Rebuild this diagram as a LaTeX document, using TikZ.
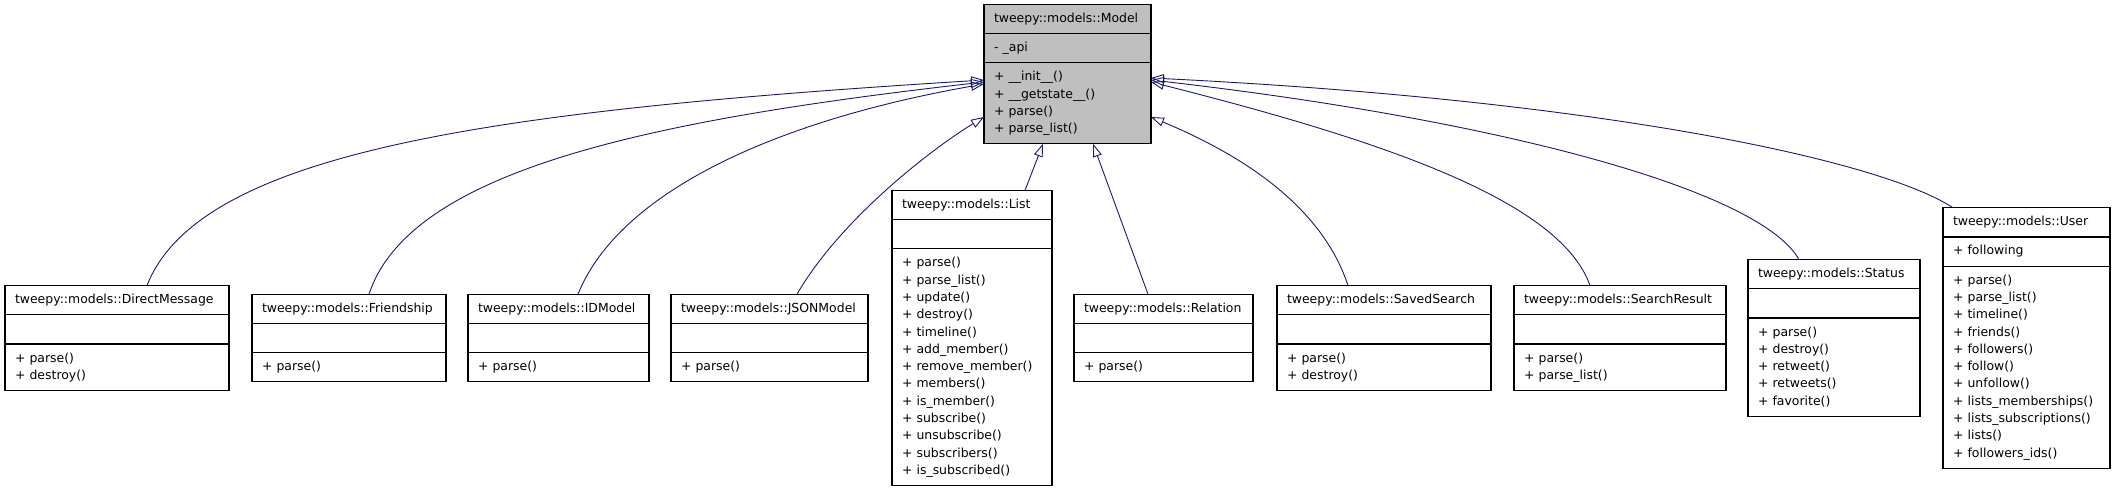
\documentclass[tikz,border=0pt]{standalone}
\usepackage{fontspec}
\newfontfamily\dxfont{DejaVu Sans}
\usepackage{tikz}
\usetikzlibrary{arrows.meta,positioning,shapes.multipart}
\definecolor{umlgray}{HTML}{BFBFBF}
\definecolor{dxblue}{HTML}{191970}

\begin{document}
\begin{tikzpicture}[x=1pt,y=-1pt,font=\dxfont\fontsize{12.45}{17.3}\selectfont,
  cls/.style={draw=black,line width=1.2pt,rectangle split,rectangle split parts=3,
    inner xsep=10pt,inner ysep=5.35pt,outer sep=0pt,text width=#1,align=left,
    execute at begin node=\strut,execute at end node=\strut},
  arr/.style={-{Triangle[open,length=13pt,width=9pt]},draw=dxblue,line width=0.9pt}]
\useasboundingbox (0,0) rectangle (2115,491);
\node[cls=147pt,fill=umlgray] (model) at (1067.5,74) {\centering tweepy::models::Model%
  \nodepart{second}- \_api%
  \nodepart{third}+ \_\_init\_\_()\\+ \_\_getstate\_\_()\\+ parse()\\+ parse\_list()};
\node[cls=204pt,anchor=west] (dm) at (5,338) {\centering tweepy::models::DirectMessage%
  \nodepart{second}\nodepart{third}+ parse()\\+ destroy()};
\node[cls=174pt,right=23pt of dm] (friendship) {\centering tweepy::models::Friendship%
  \nodepart{second}\nodepart{third}+ parse()};
\node[cls=161pt,right=22pt of friendship] (idmodel) {\centering tweepy::models::IDModel%
  \nodepart{second}\nodepart{third}+ parse()};
\node[cls=177pt,right=22pt of idmodel] (jsonmodel) {\centering tweepy::models::JSONModel%
  \nodepart{second}\nodepart{third}+ parse()};
\node[cls=140pt,right=24pt of jsonmodel] (list) {\centering tweepy::models::List%
  \nodepart{second}\nodepart{third}+ parse()\\+ parse\_list()\\+ update()\\+ destroy()\\+ timeline()\\+ add\_member()\\+ remove\_member()\\+ members()\\+ is\_member()\\+ subscribe()\\+ unsubscribe()\\+ subscribers()\\+ is\_subscribed()};
\node[cls=159pt,right=22pt of list] (relation) {\centering tweepy::models::Relation%
  \nodepart{second}\nodepart{third}+ parse()};
\node[cls=194pt,right=24pt of relation] (savedsearch) {\centering tweepy::models::SavedSearch%
  \nodepart{second}\nodepart{third}+ parse()\\+ destroy()};
\node[cls=192pt,right=23pt of savedsearch] (searchresult) {\centering tweepy::models::SearchResult%
  \nodepart{second}\nodepart{third}+ parse()\\+ parse\_list()};
\node[cls=152pt,right=22pt of searchresult] (status) {\centering tweepy::models::Status%
  \nodepart{second}\nodepart{third}+ parse()\\+ destroy()\\+ retweet()\\+ retweets()\\+ favorite()};
\node[cls=147pt,right=23pt of status] (user) {\centering tweepy::models::User%
  \nodepart{second}+ following%
  \nodepart{third}+ parse()\\+ parse\_list()\\+ timeline()\\+ friends()\\+ followers()\\+ follow()\\+ unfollow()\\+ lists\_memberships()\\+ lists\_subscriptions()\\+ lists()\\+ followers\_ids()};
\draw[arr] ([xshift=30pt]dm.north) .. controls (200,150) and (500,110) .. ([yshift=-6pt]model.west);
\draw[arr] ([xshift=20pt]friendship.north) .. controls (410,170) and (650,120) .. ([yshift=-8pt]model.west);
\draw[arr] ([xshift=19.5pt]idmodel.north) .. controls (620,190) and (780,120) .. ([yshift=-10pt]model.west);
\draw[arr] ([xshift=27.5pt]jsonmodel.north) .. controls (840,220) and (930,150) .. ([yshift=-43pt]model.west);
\draw[arr] ([xshift=53pt]list.north) -- ([xshift=-24.5pt]model.south);
\draw[arr] ([xshift=-15.5pt]relation.north) -- ([xshift=25.5pt]model.south);
\draw[arr] ([xshift=-36pt]savedsearch.north) .. controls (1320,200) and (1230,150) .. ([yshift=-43pt]model.east);
\draw[arr] ([xshift=-30pt]searchresult.north) .. controls (1560,200) and (1380,140) .. ([yshift=-8pt]model.east);
\draw[arr] ([xshift=-35pt]status.north) .. controls (1760,190) and (1500,120) .. ([yshift=-6pt]model.east);
\draw[arr] ([xshift=-73.5pt]user.north) .. controls (1880,160) and (1600,100) .. ([yshift=-4pt]model.east);
\end{tikzpicture}
\end{document}
